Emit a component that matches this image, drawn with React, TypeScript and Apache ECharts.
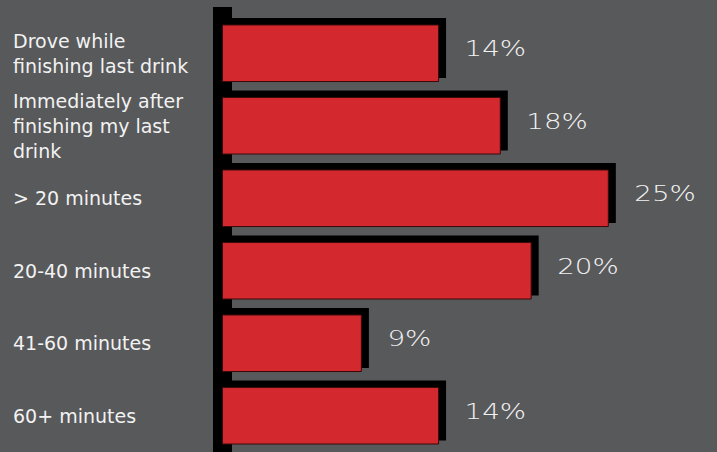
import React, { useEffect, useRef } from "react";
import * as echarts from "echarts";

const categories: string[] = [
  "Drove while\nfinishing last drink",
  "Immediately after\nfinishing my last\ndrink",
  "> 20 minutes",
  "20-40 minutes",
  "41-60 minutes",
  "60+ minutes",
];
const percentValues: number[] = [14, 18, 25, 20, 9, 14];

const BG = "#58595b";
const RED = "#d3282d";

export default function App() {
  const ref = useRef<HTMLDivElement>(null);
  useEffect(() => {
    if (!ref.current) return;
    const chart = echarts.init(ref.current, undefined, { renderer: "svg" });
    chart.setOption({
      animation: false,
      backgroundColor: BG,
      grid: { left: 222.5, right: 31.5, top: 17, height: 439 },
      xAxis: { type: "value", min: 0, max: 30, show: false },
      yAxis: {
        type: "category",
        inverse: true,
        data: categories,
        axisLine: { show: true, lineStyle: { color: "#000", width: 19, cap: "butt" } },
        axisTick: { show: false },
        splitLine: { show: false },
        axisLabel: {
          align: "left",
          margin: 209.5,
          color: "#f2f2f2",
          fontSize: 19,
          lineHeight: 25,
          fontFamily: "DejaVu Sans",
        },
      },
      graphic: [
        { type: "rect", shape: { x: 213, y: 7, width: 19, height: 11 }, style: { fill: "#000" }, z: 0 },
      ],
      series: [
        {
          type: "custom",
          coordinateSystem: "cartesian2d",
          encode: { x: 0, y: 1 },
          data: percentValues.map((v, i) => [v, i]),
          renderItem: (params: any, api: any) => {
            const v = api.value(0);
            const i = api.value(1);
            const s = api.coord([0, i]);
            const e = api.coord([v, i]);
            const h = api.size([0, 1])[1] * 0.78;
            const x0 = s[0];
            const x1 = e[0];
            const cy = s[1];
            return {
              type: "group",
              children: [
                {
                  type: "rect",
                  shape: { x: x0, y: cy - h / 2 - 7, width: x1 - x0 + 7.5, height: h + 3.5 },
                  style: { fill: "#000" },
                },
                {
                  type: "rect",
                  shape: { x: x0, y: cy - h / 2, width: x1 - x0, height: h },
                  style: { fill: RED, stroke: "#3a0b0c", lineWidth: 1 },
                },
                {
                  type: "text",
                  x: x1 + 26,
                  y: cy - 4.5,
                  scaleX: 1.32,
                  style: {
                    text: v + "%",
                    fill: "#f2f2f2",
                    fontSize: 21,
                    fontFamily: "DejaVu Sans",
                    fontWeight: 200,
                    align: "left",
                    verticalAlign: "middle",
                  },
                },
              ],
            };
          },
        },
      ],
    });
    return () => chart.dispose();
  }, []);
  return (
    <div
      ref={ref}
      style={{ position: "absolute", left: 0, top: 0, width: 717, height: 452, background: BG }}
    />
  );
}
